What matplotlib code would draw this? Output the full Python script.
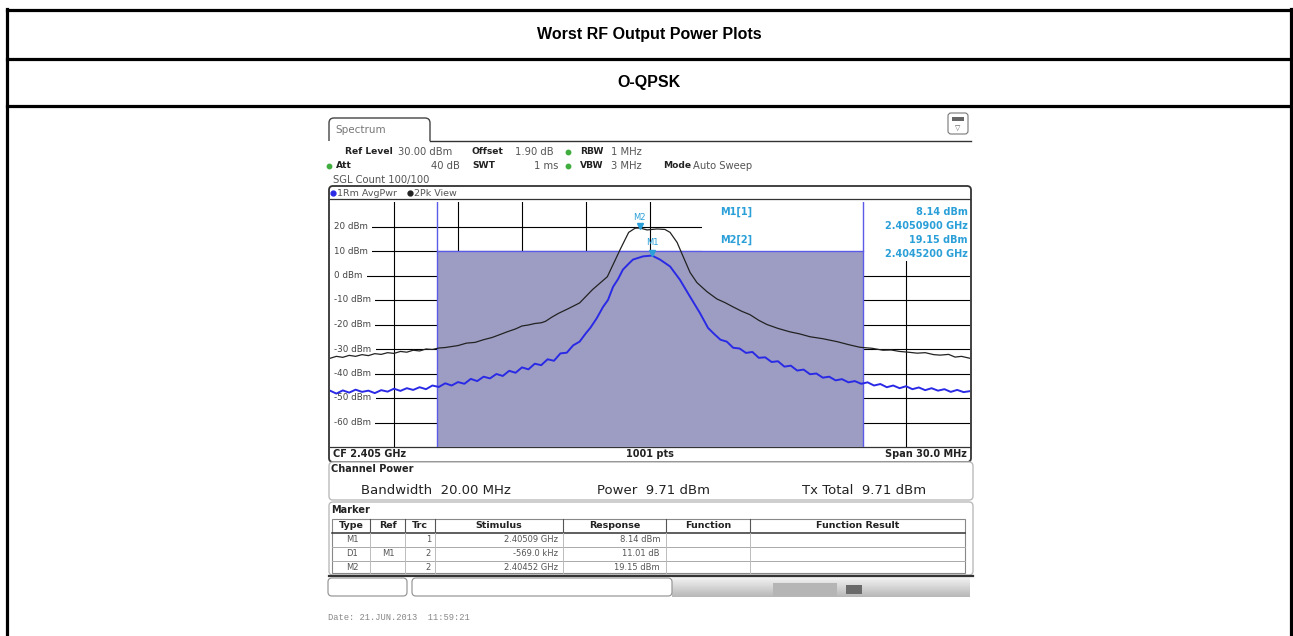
import matplotlib.pyplot as plt
import numpy as np
from matplotlib.patches import Rectangle, FancyBboxPatch

W, H = 1293, 636

title = "Worst RF Output Power Plots"
subtitle = "O-QPSK"

# trace 2 (2Pk View): offset from CF 2.405 GHz in MHz, level in dBm
pk_freq = [-15.0, -14.7, -14.4, -14.1, -13.8, -13.5, -13.2, -12.9, -12.6, -12.3,
           -12.0, -11.7, -11.4, -11.1, -10.8, -10.5, -10.2, -9.9, -9.6, -9.3,
           -9.0, -8.6, -8.2, -7.8, -7.4, -7.0, -6.7, -6.3, -6.0, -5.7,
           -5.4, -5.1, -4.9, -4.6, -4.3, -3.8, -3.3, -2.7, -2.0, -1.55,
           -1.4, -1.0, -0.7, -0.47, -0.14, 0.33, 0.70, 0.94, 1.27, 1.55,
           1.88, 2.2, 2.67, 3.14, 3.5, 3.89, 4.3, 4.69, 5.1, 5.48,
           6.0, 6.56, 7.0, 7.5, 8.1, 8.77, 9.3, 9.84, 10.4, 10.92,
           11.3, 11.7, 12.1, 12.52, 12.9, 13.3, 13.6, 14.0, 14.3, 14.6, 15.0]
pk_level = [-33.8, -33.0, -33.4, -32.6, -33.0, -32.3, -32.7, -31.9, -32.2, -31.5,
            -31.8, -31.0, -31.3, -30.5, -30.8, -30.0, -30.2, -29.6, -29.4, -29.0,
            -28.6, -27.6, -27.3, -26.2, -25.3, -24.0, -23.0, -21.8, -20.6, -20.2,
            -19.6, -19.3, -18.7, -17.0, -15.5, -13.4, -11.2, -5.8, -0.5, 7.8,
            10.6, 17.6, 19.3, 19.4, 18.6, 19.0, 18.8, 17.6, 13.5, 7.8,
            1.2, -2.9, -6.6, -9.6, -11.0, -12.8, -14.6, -16.0, -18.3, -20.0,
            -21.6, -23.0, -23.8, -25.0, -25.8, -27.0, -28.2, -29.3, -29.7, -30.5,
            -30.4, -31.0, -31.3, -31.7, -31.5, -32.3, -32.5, -32.2, -33.3, -33.0, -33.8]

# trace 1 (1Rm AvgPwr)
avg_freq = [-15.0, -14.7, -14.4, -14.1, -13.8, -13.5, -13.2, -12.9, -12.6, -12.3,
            -12.0, -11.7, -11.4, -11.1, -10.8, -10.5, -10.2, -9.9, -9.6, -9.3,
            -9.0, -8.7, -8.4, -8.1, -7.8, -7.5, -7.2, -6.9, -6.6, -6.3,
            -6.0, -5.7, -5.4, -5.1, -4.8, -4.5, -4.2, -3.9, -3.6, -3.3,
            -3.0, -2.8, -2.5, -2.2, -1.97, -1.73, -1.5, -1.27, -1.0, -0.8,
            -0.33, 0.09, 0.47, 0.94, 1.4, 1.88, 2.34, 2.72, 3.0, 3.3,
            3.6, 3.9, 4.2, 4.5, 4.8, 5.1, 5.4, 5.7, 6.0, 6.3,
            6.6, 6.9, 7.2, 7.5, 7.8, 8.1, 8.4, 8.7, 9.0, 9.3,
            9.6, 9.9, 10.2, 10.5, 10.8, 11.1, 11.4, 11.7, 12.0, 12.3,
            12.6, 12.9, 13.2, 13.5, 13.8, 14.1, 14.4, 14.7, 15.0]
avg_level = [-47.0, -48.2, -46.9, -47.8, -46.6, -47.5, -47.0, -48.0, -46.8, -47.4,
             -46.2, -47.1, -46.0, -46.7, -45.6, -46.4, -44.9, -45.5, -44.0, -44.9,
             -43.5, -44.2, -42.2, -43.1, -41.3, -42.0, -40.2, -41.0, -38.9, -39.7,
             -37.5, -38.3, -36.0, -36.6, -34.2, -34.8, -31.8, -31.5, -28.5, -27.0,
             -23.5, -21.4, -17.5, -12.8, -10.0, -4.6, -1.5, 2.4, 4.8, 6.5,
             7.8, 8.14, 6.5, 3.7, -1.7, -8.7, -15.3, -21.4, -23.8, -26.2,
             -27.0, -29.5, -29.8, -31.6, -31.2, -33.6, -33.4, -35.3, -35.0, -37.2,
             -36.8, -38.8, -38.4, -40.3, -40.0, -41.7, -41.3, -42.8, -42.3, -43.6,
             -43.1, -44.2, -43.6, -44.9, -44.3, -45.6, -44.9, -46.0, -45.2, -46.4,
             -45.7, -46.8, -46.0, -47.0, -46.4, -47.5, -46.7, -47.6, -47.2]

levels = [20, 10, 0, -10, -20, -30, -40, -50, -60]
level_labels = [f"{v} dBm" for v in levels]

m1_freq, m1_level = 0.09, 8.14
m2_freq, m2_level = -0.48, 19.15
info_lines = [("M1[1]", "8.14 dBm"), ("", "2.4050900 GHz"),
              ("M2[2]", "19.15 dBm"), ("", "2.4045200 GHz")]

table_head = ["Type", "Ref", "Trc", "Stimulus", "Response", "Function", "Function Result"]
table_rows = [["M1", "", "1", "2.40509 GHz", "8.14 dBm"],
              ["D1", "M1", "2", "-569.0 kHz", "11.01 dB"],
              ["M2", "", "2", "2.40452 GHz", "19.15 dBm"]]

fig = plt.figure(figsize=(W / 100, H / 100), dpi=100)
page = fig.add_axes([0, 0, 1, 1])
page.set_xlim(0, W)
page.set_ylim(H, 0)
page.axis("off")

# outer document table
lw_t = 2.3
page.plot([7, 7], [9, H], color="black", lw=lw_t, solid_capstyle="projecting")
page.plot([1291, 1291], [9, H], color="black", lw=lw_t, solid_capstyle="projecting")
for yy in [10, 59, 106]:
    page.plot([7, 1291], [yy, yy], color="black", lw=lw_t, solid_capstyle="projecting")
page.text(649, 35, title, ha="center", va="center", fontsize=11.5,
          fontweight="bold", family="Liberation Sans")
page.text(649, 83, subtitle, ha="center", va="center", fontsize=11.5,
          fontweight="bold", family="Liberation Sans")

ff = "DejaVu Sans"
grey = "#555555"
dark = "#222222"
green = "#3fae3f"
cyan = "#2a9fd8"

# tab + header
page.add_patch(FancyBboxPatch((329, 118), 101, 30, boxstyle="round,pad=0,rounding_size=5",
                              fc="white", ec="#444444", lw=1.0))
page.add_patch(Rectangle((326, 141), 648, 9, fc="white", ec="none"))
page.plot([430, 971], [141, 141], color="#333333", lw=1.0)
page.text(335, 130, "Spectrum", fontsize=7.5, color="#777777", va="center", family=ff)
page.add_patch(FancyBboxPatch((948, 113), 20, 21, boxstyle="round,pad=0,rounding_size=3",
                              fc="white", ec="#777777", lw=0.8))
page.add_patch(Rectangle((952, 117), 12, 4, fc="#666666", ec="none"))
page.text(958, 128, "\u25bd", fontsize=5, ha="center", va="center", color="#555555")

def hdr(x, y, s, bold=False, ha="left", color=None, size=None):
    if size is None:
        size = 6.6 if bold else 7.2
    page.text(x, y, s, fontsize=size, ha=ha, va="center", family=ff,
              fontweight="bold" if bold else "normal",
              color=color or (dark if bold else grey))

hdr(345, 152, "Ref Level", True)
hdr(398, 152, "30.00 dBm")
hdr(472, 152, "Offset", True)
hdr(515, 152, "1.90 dB")
hdr(580, 152, "RBW", True)
hdr(611, 152, "1 MHz")
hdr(336, 166, "Att", True)
hdr(460, 166, "40 dB", ha="right")
hdr(472, 166, "SWT", True)
hdr(558, 166, "1 ms", ha="right")
hdr(580, 166, "VBW", True)
hdr(611, 166, "3 MHz")
hdr(663, 166, "Mode", True)
hdr(693, 166, "Auto Sweep")
hdr(333, 180, "SGL Count 100/100")
for cx, cy in [(568, 152), (568, 166), (329, 166)]:
    page.plot(cx, cy, "o", color=green, ms=3.2)

# diagram frame
page.add_patch(FancyBboxPatch((329, 186), 642, 276, boxstyle="round,pad=0,rounding_size=4",
                              fc="white", ec="#333333", lw=1.3))
page.plot([330, 970], [199, 199], color="#333333", lw=0.9)
page.plot([330, 970], [447, 447], color="#333333", lw=0.9)
page.plot(333, 193, "o", color="#2a2ae6", ms=3.5)
hdr(337, 193, "1Rm AvgPwr", size=6.8)
page.plot(410, 193, "o", color="#222222", ms=3.5)
hdr(414, 193, "2Pk View", size=6.8)
hdr(333, 454, "CF 2.405 GHz", True, size=7)
hdr(650, 454, "1001 pts", True, ha="center", size=7)
hdr(967, 454, "Span 30.0 MHz", True, ha="right", size=7)

# channel power panel
page.add_patch(FancyBboxPatch((329, 462), 644, 38, boxstyle="round,pad=0,rounding_size=4",
                              fc="white", ec="#bbbbbb", lw=1.0))
hdr(331, 469, "Channel Power", True, size=7)
for x, s in [(361, "Bandwidth  20.00 MHz"), (597, "Power  9.71 dBm"), (802, "Tx Total  9.71 dBm")]:
    page.text(x, 491, s, fontsize=9.5, va="center", family=ff, color=dark)

# marker panel
page.add_patch(FancyBboxPatch((329, 502), 644, 73, boxstyle="round,pad=0,rounding_size=4",
                              fc="white", ec="#bbbbbb", lw=1.0))
hdr(331, 510, "Marker", True, size=7)
col_edges = [332, 370, 405, 435, 563, 666, 750, 965]
page.add_patch(Rectangle((332, 519), 633, 54, fc="white", ec="#888888", lw=0.8))
page.plot([332, 965], [533, 533], color="#333333", lw=1.1)
for yy in [547, 561]:
    page.plot([332, 965], [yy, yy], color="#aaaaaa", lw=0.7)
for xx in col_edges[1:-1]:
    page.plot([xx, xx], [519, 533], color="#555555", lw=0.8)
    page.plot([xx, xx], [533, 573], color="#bbbbbb", lw=0.7)
for i, h in enumerate(table_head):
    cx = (col_edges[i] + col_edges[i + 1]) / 2
    page.text(cx, 526, h, fontsize=6.8, ha="center", va="center", family=ff,
              fontweight="bold", color=dark)
row_y = [540, 554, 567]
for r, row in enumerate(table_rows):
    page.text(352, row_y[r], row[0], fontsize=6, ha="center", va="center", family=ff, color=grey)
    page.text(388, row_y[r], row[1], fontsize=6, ha="center", va="center", family=ff, color=grey)
    page.text(431, row_y[r], row[2], fontsize=6, ha="right", va="center", family=ff, color=grey)
    page.text(558, row_y[r], row[3], fontsize=6, ha="right", va="center", family=ff, color=grey)
    page.text(660, row_y[r], row[4], fontsize=6, ha="right", va="center", family=ff, color=grey)
page.plot([329, 973], [576, 576], color="#333333", lw=1.6)

# status bar
grad = np.linspace(0.95, 0.72, 20).reshape(-1, 1)
page.imshow(grad, extent=(672, 970, 597, 577), cmap="gray", vmin=0, vmax=1, aspect="auto", zorder=1)
page.add_patch(FancyBboxPatch((328, 578), 79, 18, boxstyle="round,pad=0,rounding_size=4",
                              fc="white", ec="#999999", lw=0.9, zorder=2))
page.add_patch(FancyBboxPatch((412, 578), 260, 18, boxstyle="round,pad=0,rounding_size=4",
                              fc="white", ec="#999999", lw=0.9, zorder=2))
page.add_patch(Rectangle((773, 583), 64, 13, fc="#b5b5b5", ec="none", zorder=2))
page.add_patch(Rectangle((846, 585), 16, 9, fc="#6a6a6a", ec="none", zorder=2))
page.set_xlim(0, W)
page.set_ylim(H, 0)
page.text(328, 617, "Date: 21.JUN.2013  11:59:21", fontsize=6.3, va="center",
          family="Liberation Mono", color="#888888")

# spectrum trace area
top_px, bot_px = 202, 447
spec = fig.add_axes([330 / W, 1 - bot_px / H, 640 / W, (bot_px - top_px) / H], zorder=2)
spec.set_xlim(-15, 15)
spec.set_ylim(-70, 30)
spec.axis("off")
for gx in np.arange(-12, 15, 3):
    spec.axvline(gx, color="black", lw=0.8, zorder=1)
for gy in levels:
    spec.axhline(gy, color="black", lw=0.8, zorder=1)
spec.add_patch(Rectangle((2.44, 5.9), 12.6, 24.1, fc="white", ec="none", zorder=2))
spec.add_patch(Rectangle((-10, -70), 20, 80, fc="#9d9dc3", ec="none", zorder=3))
edge = "#5b5be8"
spec.plot([-10, -10], [-70, 30], color=edge, lw=1.0, zorder=4)
spec.plot([10, 10], [-70, 30], color=edge, lw=1.0, zorder=4)
spec.plot([-10, 10], [10, 10], color=edge, lw=1.0, zorder=4)
for v, lab in zip(levels, level_labels):
    spec.text(-14.8, v, lab, fontsize=6.3, va="center", ha="left", family=ff, color="#444444",
              bbox=dict(fc="white", ec="none", pad=3.0), zorder=2.5)

spec.plot(pk_freq, pk_level, color="#222222", lw=0.9, zorder=5)
spec.plot(avg_freq, avg_level, color="#2a2ae6", lw=1.4, zorder=6)

spec.plot(m2_freq, m2_level + 1.2, "v", color=cyan, ms=5, zorder=7)
spec.text(m2_freq, m2_level + 4.5, "M2", fontsize=6, ha="center", va="center", color=cyan, zorder=7)
spec.plot(m1_freq, m1_level + 1.2, "v", color=cyan, ms=5, zorder=7)
spec.text(m1_freq, m1_level + 5.2, "M1", fontsize=6, ha="center", va="center", color=cyan, zorder=7)

info_y = [25.9, 20.2, 14.5, 8.8]
for (lab, val), yy in zip(info_lines, info_y):
    if lab:
        spec.text(3.3, yy, lab, fontsize=7, va="center", ha="left", family=ff,
                  fontweight="bold", color=cyan, zorder=7)
    spec.text(14.9, yy, val, fontsize=7, va="center", ha="right", family=ff,
              fontweight="bold", color=cyan, zorder=7)

fig.savefig("out.png", dpi=100)
